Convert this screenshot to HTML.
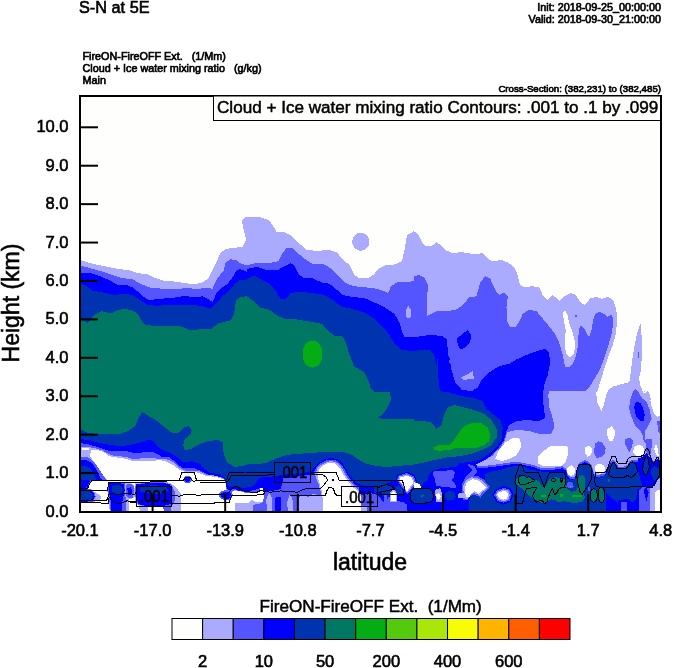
<!DOCTYPE html>
<html><head><meta charset="utf-8"><title>S-N at 5E</title>
<style>
html,body{margin:0;padding:0;background:#fff;}
body{width:674px;height:668px;overflow:hidden;}
svg{display:block;font-family:"Liberation Sans",sans-serif;}
text{fill:#000;}
</style></head><body>
<svg width="674" height="668" viewBox="0 0 674 668">
<g shape-rendering="crispEdges">
<rect x="80" y="96" width="581" height="416" fill="#fefefc"/>
<polygon fill="#aaaaff" points="80.0,260.0 92.5,263.8 105.0,266.2 117.5,268.8 130.0,270.5 137.5,273.2 147.5,274.2 155.0,278.0 165.0,281.2 172.5,281.2 185.0,283.2 195.0,284.2 202.5,282.5 208.8,278.0 212.5,270.0 216.2,262.5 220.0,253.8 225.0,249.2 232.5,248.0 242.5,246.8 246.2,240.0 243.8,230.0 242.0,221.2 245.0,217.0 259.5,217.0 269.5,220.5 273.2,226.2 277.0,232.5 284.5,232.0 292.0,236.2 299.5,243.8 307.0,250.0 317.0,250.8 329.5,250.0 337.0,252.5 343.2,260.0 349.5,265.0 354.5,275.0 359.5,278.2 369.5,277.5 374.5,273.8 378.2,268.8 384.5,265.5 394.5,264.5 402.0,261.2 404.5,250.0 407.0,235.0 414.0,231.2 417.8,233.8 421.5,241.2 425.2,246.2 431.5,246.2 436.5,242.0 440.2,245.0 445.2,250.0 452.8,253.2 461.5,252.0 474.0,254.2 482.8,253.2 487.8,258.8 492.8,261.2 501.5,260.0 507.8,262.5 513.2,266.2 517.0,272.5 520.0,285.0 524.5,287.5 532.0,286.2 539.5,287.5 543.2,296.2 547.0,300.0 552.0,295.0 555.8,297.5 559.5,300.8 564.5,296.2 570.8,293.0 575.8,295.0 580.8,302.5 584.5,305.0 590.8,298.0 597.0,297.0 602.0,298.8 608.2,296.8 613.2,300.0 615.8,307.5 617.5,317.5 639.7,325.7 640.6,324.1 641.1,325.7 641.7,339.9 641.7,356.5 641.1,369.8 638.9,378.1 640.6,386.4 643.9,393.9 648.0,391.0 649.7,394.7 651.4,401.0 642.2,388.3 645.5,393.3 648.0,391.3 649.7,396.6 651.7,406.6 654.4,414.1 657.2,416.9 661.0,414.9 661.0,512.0 80.0,512.0"/>
<polygon fill="#fefefc" points="617.3,314.9 617.3,319.9 615.6,334.9 612.3,346.5 608.2,356.5 604.0,369.8 599.9,383.1 597.4,391.4 595.7,401.0 596.5,391.6 596.5,399.9 599.0,406.6 601.5,410.7 604.0,404.9 605.7,396.6 608.2,390.0 613.1,386.6 621.5,384.2 628.1,382.5 629.8,380.8 630.6,373.1 632.3,359.8 634.7,344.8 637.2,333.2 639.7,325.7 639.7,314.9"/>
<ellipse fill="#aaaaff" cx="360.8" cy="241.8" rx="8.7" ry="9.0"/>
<polygon fill="#5555ff" points="80.0,265.5 92.5,268.8 105.0,272.5 112.5,275.0 122.5,278.2 132.5,279.2 140.0,283.8 150.0,287.5 162.5,288.8 175.0,289.2 187.5,288.0 197.5,289.2 205.0,287.5 212.5,288.8 216.2,280.0 220.0,275.0 223.8,271.2 225.0,263.8 230.0,259.2 236.2,260.0 241.2,263.8 247.0,265.5 257.0,262.5 269.5,263.2 278.2,261.2 282.0,253.8 287.0,247.5 292.0,247.5 297.0,252.5 304.5,258.8 312.0,263.8 324.5,264.5 329.5,267.5 339.5,277.5 347.0,283.8 354.5,286.2 367.0,287.5 377.0,288.8 384.5,291.2 388.2,293.0 390.8,286.2 397.0,282.5 407.0,282.0 414.0,281.2 414.0,276.2 419.0,275.0 424.0,277.5 427.8,285.0 427.2,300.0 427.2,315.8 436.5,311.2 446.5,311.2 456.5,309.5 462.8,305.0 469.0,297.5 476.5,296.2 480.2,282.5 485.2,276.2 490.2,278.8 495.2,290.0 499.0,295.0 504.0,292.5 507.8,296.2 506.5,307.5 506.5,320.0 510.2,327.0 515.2,327.5 519.0,322.5 522.8,313.8 529.0,309.5 536.5,311.2 542.8,318.8 549.0,326.2 554.0,332.5 559.0,342.5 562.8,355.0 565.2,367.0 565.8,367.0 566.6,367.3 570.8,366.4 574.9,359.8 577.4,349.8 578.2,338.2 579.1,328.2 580.7,325.7 584.9,329.9 589.1,337.4 591.5,329.9 593.2,319.9 595.7,313.3 599.9,311.6 604.0,314.1 607.3,316.6 611.5,314.9 613.1,318.2 612.3,331.5 609.0,343.2 604.8,356.5 599.9,369.8 594.9,378.1 589.9,386.4 585.7,391.4 582.0,391.2 549.5,391.2 548.2,395.0 549.5,407.5 553.2,420.0 554.5,427.5 550.8,433.8 542.0,434.5 529.5,431.2 517.0,429.5 507.0,432.5 507.0,432.5 504.5,441.2 499.0,450.0 497.1,450.0 493.4,455.0 487.2,458.7 478.4,461.8 468.5,464.3 477.2,466.2 487.2,465.6 497.1,464.3 505.9,463.1 514.6,461.8 520.8,462.5 530.0,464.3 535.0,465.6 540.0,467.5 546.2,468.1 554.9,467.5 562.4,466.2 566.2,468.7 567.4,473.7 569.9,476.8 574.9,477.4 576.1,471.2 578.0,465.0 581.1,461.8 584.9,460.0 588.6,461.8 591.7,465.0 593.0,470.0 594.2,473.7 597.3,474.9 604.8,473.7 606.7,468.7 608.1,467.4 610.0,461.2 613.1,460.0 616.2,462.4 618.1,466.8 622.4,467.4 627.4,464.9 629.9,460.6 634.9,460.0 639.9,460.6 643.6,457.5 646.7,453.7 649.9,457.5 653.6,461.2 657.3,458.7 661.7,460.6 661.0,512.0 80.0,512.0"/>
<polygon fill="#0000ff" points="80.0,272.5 90.0,273.0 100.0,276.2 110.0,280.5 117.5,285.0 127.5,285.5 133.8,288.0 142.5,296.2 148.8,300.0 157.5,299.2 167.5,298.2 175.0,297.5 185.0,295.8 195.0,297.5 202.5,296.2 207.5,298.8 212.5,302.0 216.2,293.8 222.5,287.5 227.5,283.8 232.5,277.5 236.2,271.2 240.0,269.2 247.0,271.8 247.0,268.8 257.0,267.0 267.0,270.0 277.0,270.5 284.5,266.2 290.8,263.0 294.5,266.2 298.2,273.8 303.2,277.5 312.0,278.2 322.0,282.5 329.5,283.8 337.0,290.0 342.0,295.0 352.0,296.8 364.5,298.2 374.5,302.5 384.5,307.5 394.5,313.8 399.5,322.5 402.0,332.5 404.5,337.5 414.0,337.0 421.5,336.2 429.0,335.0 441.5,335.8 446.5,338.8 447.8,350.0 449.0,360.0 450.2,367.0 449.0,355.0 451.5,370.0 455.2,382.5 461.5,389.5 471.5,391.2 477.8,387.5 481.5,380.0 489.0,372.5 499.0,366.2 509.0,363.8 516.5,359.5 526.5,355.0 536.5,351.2 545.2,348.8 549.0,352.5 550.2,362.5 547.8,375.0 544.0,385.0 542.8,397.5 544.0,410.0 545.2,417.5 539.0,421.2 526.5,420.0 516.5,421.2 509.0,425.0 506.5,431.2 504.0,440.0 497.8,448.8 491.5,455.0 485.2,460.0 476.5,464.5 477.2,468.2 487.2,467.6 497.1,466.3 505.9,465.1 514.6,463.8 520.8,464.5 530.0,466.3 535.0,467.6 540.0,469.5 546.2,470.1 554.9,469.5 562.4,468.2 566.2,470.7 567.4,475.7 569.9,478.8 574.9,479.4 576.1,473.2 578.0,467.0 581.1,463.8 584.9,462.0 588.6,463.8 591.7,467.0 593.0,472.0 594.2,475.7 597.3,476.9 604.8,475.7 606.7,470.7 608.1,469.4 610.0,463.2 613.1,462.0 616.2,464.4 618.1,468.8 622.4,469.4 627.4,466.9 629.9,462.6 634.9,462.0 639.9,462.6 643.6,459.5 646.7,455.7 649.9,459.5 653.6,463.2 657.3,460.7 661.7,462.6 661.0,512.0 80.0,512.0"/>
<polygon fill="#0000ff" points="457.0,338.2 462.8,333.8 467.8,330.0 471.0,335.0 470.2,342.5 465.2,347.5 460.2,349.5 457.8,345.0"/>
<polygon fill="#0033b0" points="80.0,283.8 85.0,285.0 92.5,290.5 102.5,292.5 112.5,295.0 125.0,293.8 132.5,295.0 140.0,300.0 147.5,305.0 157.5,305.8 167.5,305.0 180.0,305.5 192.5,305.0 202.5,306.2 210.0,308.8 216.2,303.8 222.5,296.2 230.0,290.0 235.0,283.8 240.0,280.0 247.0,280.5 247.0,278.8 254.5,275.5 262.0,280.0 269.5,283.8 275.8,291.2 280.8,299.2 285.8,299.2 290.8,293.0 299.5,291.8 312.0,293.0 324.5,295.0 334.5,301.2 340.8,306.2 352.0,308.8 364.5,312.5 374.5,318.8 383.2,327.5 389.5,335.0 394.5,343.8 402.0,350.0 414.0,351.2 421.5,349.5 429.0,350.0 434.0,355.0 437.0,367.0 437.8,355.0 437.8,370.0 439.0,385.0 440.2,391.2 449.0,392.5 461.5,396.2 474.0,398.0 482.8,401.2 486.5,408.8 494.0,415.0 500.2,420.0 502.8,427.5 501.5,438.8 496.5,447.5 489.0,453.8 481.5,458.8 472.8,462.5 461.5,465.0 461.0,512.0 80.0,512.0"/>
<polygon fill="#007763" points="80.0,320.0 83.8,320.8 87.5,322.5 92.5,317.5 96.2,313.8 101.2,311.2 107.5,312.5 112.5,312.5 117.5,310.0 125.0,308.8 132.5,310.5 137.5,313.8 141.2,320.0 145.0,325.0 155.0,325.8 167.5,325.5 180.0,325.8 190.0,330.5 200.0,329.2 211.2,329.2 217.5,323.8 223.8,321.8 230.0,320.8 233.8,315.0 236.2,300.0 240.0,297.5 247.0,296.2 247.0,296.2 252.0,300.0 259.5,307.5 269.5,310.0 277.0,315.5 284.5,318.8 297.0,319.5 307.0,321.2 322.0,323.8 327.0,330.0 334.5,335.8 342.0,335.8 345.8,342.5 349.5,355.0 354.5,367.0 358.2,368.8 364.5,372.5 368.2,380.0 370.8,388.8 375.8,392.5 383.2,392.0 389.5,392.5 391.5,398.8 388.2,406.2 383.2,413.8 377.0,418.0 387.0,419.2 399.5,419.2 414.0,419.2 414.0,421.2 424.0,421.2 431.5,422.5 436.5,428.8 441.5,425.0 444.0,415.0 447.8,407.5 454.0,405.0 464.0,407.5 474.0,410.0 484.0,413.8 491.5,420.0 496.5,428.8 496.5,437.5 491.5,445.0 481.5,450.0 471.5,453.8 459.0,456.2 446.5,457.5 434.0,460.0 424.0,462.5 414.0,464.5 414.0,464.5 407.0,465.0 397.0,466.2 387.0,466.8 377.0,466.2 367.0,463.8 359.5,460.0 352.0,455.0 344.5,452.5 334.5,452.0 322.0,452.2 309.5,453.0 297.0,454.0 287.0,454.8 277.0,458.0 267.0,462.5 257.0,464.5 247.0,464.2 247.0,465.0 235.0,467.0 227.5,462.5 223.8,455.0 222.5,442.5 217.5,440.0 207.5,441.2 197.5,445.0 191.2,448.8 185.0,450.0 183.2,445.0 185.0,438.8 190.0,435.0 191.8,430.0 188.8,425.8 183.8,427.5 178.8,432.5 172.5,433.0 165.0,427.5 157.5,421.2 148.8,416.2 142.5,412.0 138.8,417.5 135.0,426.2 127.5,431.2 117.5,434.5 107.5,433.8 97.5,434.5 87.5,432.5 80.0,428.8"/>
<ellipse fill="#04ad14" cx="312.5" cy="354.0" rx="10.0" ry="13.5"/>
<polygon fill="#04ad14" points="433.5,447.5 439.0,445.0 449.0,445.0 454.0,440.0 459.0,432.5 464.0,426.2 471.5,423.2 481.5,423.2 487.8,427.5 490.2,435.0 489.0,441.2 484.0,445.0 476.5,447.5 466.5,448.0 456.5,447.5 449.0,450.0 439.0,450.8 434.0,449.5"/>
<polygon fill="#aaaaff" points="408.2,305.0 410.8,310.0 411.5,316.2 409.0,318.8 405.8,316.2 405.8,311.2"/>
<polygon fill="#0000ff" points="80.0,438.7 90.5,440.6 102.9,443.7 115.4,445.6 125.4,445.6 132.9,444.3 140.3,442.4 145.3,440.6 149.1,439.7 152.8,440.6 156.6,444.9 162.0,449.9 170.0,452.5 177.5,457.5 182.5,462.5 192.5,461.2 200.0,463.8 203.8,468.8 210.0,472.5 220.0,474.5 224.7,477.8 226.6,482.2 227.8,485.9 230.9,487.2 234.7,485.9 238.4,487.2 243.4,487.8 249.6,487.2 254.6,484.7 257.1,480.9 259.6,477.8 264.6,476.6 270.8,476.6 275.8,476.0 283.3,474.7 290.0,474.1 303.7,472.8 311.2,471.0 314.9,466.6 319.3,462.2 324.9,459.1 331.1,457.9 337.4,459.1 341.7,462.2 344.9,467.2 348.0,472.8 351.7,478.4 356.1,482.8 361.1,485.3 367.3,485.9 374.0,485.7 385.0,485.0 395.0,479.0 400.0,473.0 408.0,468.0 416.0,466.0 430.0,467.0 445.0,465.0 461.0,463.0 476.0,461.0 476.0,512.0 80.0,512.0"/>
<polygon fill="#5555ff" points="80.0,443.1 88.0,444.3 96.7,446.8 104.2,449.3 110.4,451.2 120.4,450.5 125.4,450.5 130.4,452.4 137.9,453.0 145.3,452.2 152.8,452.2 157.8,454.3 162.0,456.8 170.0,457.2 176.2,463.0 182.5,468.0 195.0,468.5 202.5,471.8 210.0,475.5 220.0,477.5 221.0,476.6 224.7,479.1 226.0,482.8 226.6,487.2 228.4,490.3 234.7,489.0 238.4,490.7 243.4,491.5 249.6,490.9 255.9,489.7 260.9,487.8 263.4,490.9 270.8,490.9 275.8,490.3 280.8,489.0 283.3,478.4 290.0,478.4 297.5,476.0 313.1,474.7 316.2,467.2 320.5,463.5 325.5,460.7 331.1,459.5 336.8,460.7 340.5,463.5 343.6,467.8 346.7,473.5 350.5,479.1 354.8,484.1 358.6,487.2 359.8,493.4 362.3,510.9 362.0,512.0 80.0,512.0"/>
<polygon fill="#aaaaff" points="80.0,446.4 90.5,447.4 96.7,448.7 102.9,450.5 107.9,453.7 112.9,455.5 120.4,456.2 127.9,457.4 131.6,458.7 137.9,458.7 145.3,458.0 152.8,458.0 157.8,458.7 162.0,459.3 165.0,458.8 172.5,461.5 178.8,467.5 185.0,470.5 197.5,470.5 205.0,473.8 206.0,474.7 213.5,475.3 220.3,477.2 224.7,479.7 226.0,482.8 226.0,488.4 230.9,492.2 234.7,490.3 240.9,490.9 245.9,492.8 255.9,492.8 260.9,490.9 263.4,492.2 263.4,498.4 260.9,502.1 255.9,502.8 252.1,500.3 248.4,503.4 235.3,504.0 235.3,510.9 80.0,512.0"/>
<polygon fill="#fefefc" points="80.0,456.8 89.8,456.8 89.8,454.9 91.1,450.5 94.2,449.9 99.2,450.5 104.2,452.4 107.9,455.5 112.9,457.2 120.4,457.8 127.9,459.3 132.9,461.4 142.8,461.4 152.8,461.1 157.8,460.1 162.0,460.5 165.0,460.8 172.5,464.5 178.8,469.5 185.0,472.0 195.0,472.0 202.5,474.2 206.0,476.0 213.5,476.6 219.7,477.8 224.1,479.7 226.0,482.8 226.0,489.7 230.9,492.8 234.7,490.9 240.9,491.5 245.9,493.4 255.9,493.4 260.9,491.5 262.7,492.8 262.7,497.8 260.9,501.5 255.9,502.1 252.1,499.6 248.4,502.8 234.7,503.4 234.7,510.9 80.0,512.0"/>
<polygon fill="#aaaaff" points="235.3,504.0 248.4,503.4 252.1,500.3 255.9,502.4 260.9,501.9 263.4,498.4 263.6,510.9 235.3,510.9"/>
<polygon fill="#5555ff" points="252.8,510.9 252.8,505.9 255.9,504.0 260.9,503.4 263.6,499.6 263.6,510.9"/>
<polygon fill="#5555ff" points="218.5,493.4 222.2,490.9 227.2,489.9 231.6,490.9 232.8,494.7 231.6,498.4 228.4,500.3 223.5,499.9 219.7,497.8"/>
<polygon fill="#0000ff" points="220.3,494.0 223.5,492.2 227.2,491.5 230.7,492.8 230.9,495.9 229.1,498.6 224.7,498.6 221.6,497.1"/>
<polygon fill="#aaaaff" points="299.4,510.9 299.4,497.1 303.7,494.7 308.7,497.1 313.7,493.4 318.7,495.9 323.0,493.4 323.0,510.9"/>
<polygon fill="#0000ff" points="274.6,497.8 280.8,496.8 281.2,512.4 275.0,512.4"/>
<polygon fill="#aaaaff" points="266.2,499.9 269.4,491.6 272.5,499.9 271.4,512.4 267.3,512.4"/>
<polygon fill="#aaaaff" points="287.0,502.0 290.1,493.7 293.3,502.0 292.8,512.4 288.1,512.4"/>
<polygon fill="#fefefc" points="260.0,487.4 263.1,488.5 264.2,494.7 263.1,502.0 260.0,502.0"/>
<polygon fill="#aaaaff" points="314.9,474.7 317.4,468.5 321.2,464.7 326.2,462.2 331.1,461.0 336.1,462.2 339.6,465.0 342.4,469.1 345.5,474.7 349.2,480.3 353.6,485.3 357.3,488.4 360.4,493.4 362.9,503.4 364.2,510.9 321.8,510.9 321.2,493.4 318.7,484.7"/>
<polygon fill="#fefefc" points="317.4,476.0 319.3,469.7 321.8,466.6 326.2,463.7 331.1,462.5 335.5,463.7 338.6,466.6 341.1,470.3 344.2,476.0 348.0,481.6 352.3,486.5 356.1,489.7 359.8,493.4 362.3,503.4 363.6,510.9 323.0,510.9 322.4,493.4 319.9,484.7"/>
<polygon fill="#fefefc" points="81.7,448.1 89.2,448.1 89.2,449.9 81.7,449.9"/>
<polygon fill="#aaaaff" points="80.0,456.8 89.8,456.2 91.7,458.7 95.5,463.6 99.2,469.3 102.9,474.9 107.3,479.9 107.9,480.1 80.7,480.1"/>
<polygon fill="#5555ff" points="80.0,457.4 88.0,457.4 91.7,459.9 96.1,464.9 100.4,471.1 104.2,476.7 106.4,480.0 106.1,480.1 80.7,480.1"/>
<polygon fill="#0000ff" points="80.0,459.9 85.5,459.9 90.5,462.4 94.2,466.1 98.0,472.4 100.4,477.4 102.9,480.0 103.6,480.1 80.7,480.1"/>
<polygon fill="#0033b0" points="80.0,466.1 85.5,466.4 89.2,468.0 91.7,470.5 94.2,474.9 96.7,480.0 96.7,480.1 80.7,480.1"/>
<polygon fill="#5555ff" points="80.7,480.1 91.7,480.1 89.5,484.3 88.2,488.0 80.7,488.9"/>
<polygon fill="#0000ff" points="80.7,480.1 90.5,480.1 88.6,483.6 87.4,487.4 80.7,488.0"/>
<polygon fill="#aaaaff" points="80.7,488.4 90.5,488.6 95.5,492.4 100.4,495.5 101.1,499.2 96.7,500.5 93.0,502.3 80.7,503.0"/>
<polygon fill="#5555ff" points="80.7,488.6 90.2,489.0 94.5,492.6 95.7,496.7 93.0,501.7 80.7,502.6"/>
<polygon fill="#0000ff" points="80.7,489.3 89.8,489.6 93.6,493.0 94.8,496.7 92.3,501.1 80.7,502.1"/>
<polygon fill="#0033b0" points="80.7,490.5 89.2,491.1 92.3,493.6 93.0,496.7 90.5,499.9 80.7,501.1"/>
<polygon fill="#aaaaff" points="107.9,482.4 127.9,483.0 129.7,489.9 129.1,511.1 109.8,511.1 108.5,499.9 107.3,489.9"/>
<polygon fill="#5555ff" points="108.5,482.6 125.4,483.0 126.6,492.4 126.0,511.1 110.7,511.1 109.2,499.9 107.9,489.9"/>
<polygon fill="#0000ff" points="109.2,483.0 123.5,483.6 124.8,489.9 123.5,496.1 122.3,502.3 122.3,511.1 111.4,511.1 110.7,501.1 108.9,492.4"/>
<polygon fill="#0033b0" points="111.7,486.1 115.4,484.9 120.4,485.5 122.9,488.6 122.3,492.4 119.1,493.9 114.8,493.6 111.9,491.1"/>
<polygon fill="#aaaaff" points="125.4,484.3 130.4,483.0 134.1,485.5 135.1,492.4 133.5,498.0 129.1,499.4 125.4,496.7"/>
<polygon fill="#5555ff" points="126.0,484.9 130.4,483.6 133.5,486.1 134.1,492.4 132.9,497.4 129.1,498.6 126.0,496.1"/>
<polygon fill="#0000ff" points="127.3,488.0 131.0,487.4 132.2,491.1 131.0,494.9 127.9,494.9"/>
<polygon fill="#aaaaff" points="134.8,483.5 149.8,481.5 163.1,481.5 170.6,483.2 176.4,487.4 181.4,494.8 181.4,511.5 163.9,511.5 163.1,507.3 148.1,507.3 148.1,511.5 139.8,511.5 139.0,505.6 135.7,503.1 134.0,494.8"/>
<polygon fill="#5555ff" points="135.7,484.2 149.8,482.4 163.1,482.4 170.6,484.0 174.4,489.9 175.5,498.2 173.1,504.8 171.4,506.5 171.4,511.5 163.9,511.5 163.1,506.8 153.1,506.1 146.5,506.8 138.2,504.5 134.8,494.8"/>
<polygon fill="#0000ff" points="136.5,484.5 149.8,482.9 163.1,482.9 169.7,484.5 172.2,489.9 172.2,496.5 170.6,504.0 163.1,506.1 153.1,505.6 146.5,506.1 138.2,504.0 135.7,494.8"/>
<polygon fill="#0033b0" points="139.8,487.4 153.1,484.9 166.4,486.5 168.9,491.5 159.8,494.0 146.5,493.2 140.7,491.5"/>
<ellipse fill="#5555ff" cx="187.7" cy="479.5" rx="4.2" ry="3.6"/>
<ellipse fill="#0000ff" cx="187.7" cy="479.5" rx="2.8" ry="2.4"/>
<polygon fill="#fefefc" points="563.3,311.6 565.8,310.8 567.4,314.9 569.1,323.2 572.4,331.5 574.6,339.9 574.9,348.2 573.3,354.8 569.9,357.0 566.6,354.8 565.0,348.2 565.0,338.2 565.8,329.9 564.1,321.6 563.0,314.9"/>
<ellipse fill="#5555ff" cx="575.8" cy="316.1" rx="1.2" ry="1.2"/>
<polygon fill="#5555ff" points="637.6,351.5 638.9,351.5 638.9,358.1 637.6,358.1"/>
<polygon fill="#5555ff" points="635.6,389.1 638.1,391.6 642.2,398.3 646.4,401.6 649.7,409.9 651.7,419.1 648.0,426.5 644.7,431.5 645.5,439.8 648.0,442.3 651.4,446.5 648.0,446.5 643.9,441.5 642.2,434.0 639.7,429.9 634.7,424.9 631.4,416.6 628.9,408.2 630.6,398.3 633.1,391.6"/>
<polygon fill="#0000ff" points="637.2,401.6 640.6,403.3 643.1,408.2 644.7,414.9 643.9,420.7 640.6,421.5 637.2,418.2 634.7,412.4 634.4,406.6 635.6,402.4"/>
<polygon fill="#5555ff" points="657.2,421.5 661.0,419.9 661.0,434.8 658.0,431.5"/>
<polygon fill="#5555ff" points="645.5,438.8 652.3,438.8 651.7,446.2 651.1,452.5 649.2,456.2 646.7,452.5 645.5,446.2"/>
<polygon fill="#fefefc" points="607.3,429.0 611.5,426.2 614.5,429.9 614.8,435.7 612.3,441.5 609.0,440.7 607.0,434.8"/>
<polygon fill="#fefefc" points="585.2,447.3 589.1,445.6 592.4,449.0 591.2,454.8 587.4,456.8 584.9,453.1"/>
<polygon fill="#fefefc" points="550.0,445.6 560.0,445.6 567.4,448.1 567.9,454.8 565.8,461.4 561.6,465.6 550.0,466.4"/>
<polygon fill="#fefefc" points="633.9,447.3 638.9,444.8 643.1,446.5 644.7,451.5 643.1,455.6 636.4,455.6 633.1,453.1"/>
<polygon fill="#fefefc" points="654.7,445.6 656.4,444.8 658.0,449.8 658.8,456.4 656.4,454.8 654.4,449.8"/>
<polygon fill="#5555ff" points="594.9,444.0 598.2,441.2 602.3,442.8 605.7,448.1 604.8,453.9 600.7,457.3 596.5,457.8 594.0,453.1"/>
<polygon fill="#5555ff" points="625.6,439.0 629.8,437.8 632.8,440.7 632.3,446.5 629.4,452.3 626.8,448.1 624.8,443.1"/>
<polygon fill="#fefefc" points="495.2,458.8 499.0,450.0 505.2,442.5 514.0,437.5 520.2,438.8 521.0,447.5 516.5,455.0 509.0,458.8 501.5,461.2"/>
<polygon fill="#fefefc" points="538.1,456.2 541.2,453.7 545.0,450.0 550.0,446.3 567.4,446.3 568.0,450.0 567.4,456.2 565.5,461.2 563.7,464.3 554.9,465.6 546.2,466.2 541.8,465.6 537.5,463.1"/>
<polygon fill="#aaaaff" points="461.5,377.5 472.8,371.2 474.0,378.8 462.8,380.0"/>
<polygon fill="#0033b0" points="469.1,512.3 469.1,499.9 471.0,496.1 473.5,493.0 476.6,495.5 478.4,496.1 480.9,492.4 484.7,489.9 486.5,487.4 485.3,481.2 484.7,474.9 487.2,473.1 493.4,471.2 500.9,470.0 508.4,467.5 514.6,466.2 520.8,465.6 530.0,470.0 537.5,470.6 542.5,471.8 548.7,472.4 554.9,471.8 563.7,471.8 565.5,474.9 567.4,478.7 572.4,479.9 575.5,478.7 576.8,472.4 578.6,466.2 582.4,464.3 587.4,464.3 591.1,466.2 592.3,471.2 593.6,476.8 596.1,478.1 601.1,476.2 606.1,474.9 608.7,468.7 611.2,462.4 614.3,463.7 616.8,468.1 626.2,468.7 629.9,463.1 633.6,461.8 636.1,464.9 637.4,471.2 642.4,473.7 646.1,469.9 647.4,464.9 649.2,469.9 652.3,468.7 656.1,464.9 658.6,467.4 659.8,474.9 656.1,481.1 652.3,486.1 642.4,486.8 637.4,489.9 636.1,499.9 632.4,502.3 627.4,498.6 621.2,499.9 616.2,501.7 611.2,497.4 606.2,492.4 606.2,511.7 469.0,512.0"/>
<polygon fill="#0000ff" points="638.0,458.7 643.6,456.2 646.7,453.1 649.9,457.5 653.6,461.8 657.3,459.3 661.1,461.2 661.1,473.7 656.1,481.1 652.3,486.4 642.4,486.4 639.9,477.4 638.6,471.2"/>
<polygon fill="#0033b0" points="643.0,471.2 644.9,460.0 646.7,456.8 648.6,460.6 649.2,467.4 647.4,474.3 644.9,475.5"/>
<polygon fill="#0033b0" points="651.1,469.9 654.8,466.2 658.6,468.1 659.2,474.9 654.8,481.1 651.7,477.4"/>
<polygon fill="#5555ff" points="620.5,502.3 627.4,502.3 627.4,511.7 620.5,511.7"/>
<polygon fill="#5555ff" points="639.3,489.9 642.4,487.4 649.9,487.4 649.9,511.7 639.3,511.7"/>
<polygon fill="#aaaaff" points="649.9,487.4 654.8,486.1 656.7,481.1 661.7,474.9 661.7,511.7 649.9,511.7"/>
<polygon fill="#fefefc" points="654.8,492.4 657.3,489.9 661.7,489.9 661.7,511.7 654.8,511.7"/>
<polygon fill="#0000ff" points="643.6,489.9 646.1,487.4 648.6,492.4 646.7,501.1 644.9,496.1"/>
<polygon fill="#007763" points="515.9,483.0 515.9,479.9 518.3,476.8 523.3,476.2 528.3,477.4 530.0,478.1 535.0,479.3 538.7,481.2 542.5,486.2 545.0,487.4 547.5,482.4 550.0,478.7 554.9,477.4 561.2,477.7 564.9,479.3 566.2,483.7 567.4,488.7 571.1,491.8 576.1,491.1 578.0,486.2 578.0,479.9 579.3,476.2 582.4,474.9 584.9,476.8 585.5,482.4 584.9,488.7 583.6,493.6 584.9,497.4 582.4,501.7 576.1,503.0 569.9,502.4 563.7,501.1 558.7,502.4 554.9,499.9 551.2,499.3 546.2,502.4 542.5,503.0 537.5,501.1 533.7,498.6 529.6,496.1 525.8,492.4 522.1,488.7 518.3,486.2"/>
<polygon fill="#007763" points="590.6,492.4 592.5,489.3 595.6,489.9 596.9,494.9 596.2,499.9 593.7,501.7 591.2,499.9"/>
<polygon fill="#007763" points="598.7,489.9 601.2,486.8 603.1,489.9 604.3,496.1 603.7,501.1 601.2,502.3 599.4,498.6"/>
<polygon fill="#007763" points="608.1,478.7 610.6,480.1 608.5,481.8"/>
<polygon fill="#04ad14" points="541.2,494.9 545.6,494.9 545.6,496.8 541.2,496.8"/>
<polygon fill="#04ad14" points="559.9,494.3 563.0,494.3 563.0,497.1 559.9,497.1"/>
<polygon fill="#04ad14" points="572.4,495.1 581.7,495.1 581.7,496.8 572.4,496.8"/>
<polygon fill="#5555ff" points="566.8,483.7 569.9,481.2 573.0,483.0 573.6,486.8 571.1,488.7 567.4,487.4"/>
<polygon fill="#aaaaff" points="568.7,485.5 571.1,485.5 570.5,487.4"/>
<polygon fill="#5555ff" points="588.0,487.4 589.9,487.4 589.9,491.1 588.0,491.1"/>
<ellipse fill="#fefefc" cx="571.1" cy="470.6" rx="4.1" ry="5.2"/>
<ellipse fill="#fefefc" cx="599.8" cy="468.7" rx="5.2" ry="5.0"/>
<polygon fill="#5555ff" points="467.8,464.0 474.7,466.0 477.4,471.8 473.5,476.8 469.1,479.9 464.1,481.2 465.4,476.8 469.7,473.1 472.2,470.0 468.5,466.2"/>
<polygon fill="#5555ff" points="461.5,485.1 464.3,479.1 471.1,475.5 478.2,476.0 483.6,479.5 487.8,484.1 489.9,486.9 487.4,490.4 484.7,492.5 480.6,497.6 478.2,496.0 472.6,494.9 469.3,496.9 467.5,500.1 463.8,500.2 461.8,495.4"/>
<polygon fill="#aaaaff" points="463.4,485.6 465.7,480.4 471.7,477.4 477.7,478.0 482.3,480.9 485.9,484.8 487.9,487.1 485.4,490.1 482.8,491.8 479.5,495.9 477.4,494.2 473.3,493.0 470.4,495.3 468.6,498.4 465.2,498.8 463.6,494.5"/>
<polygon fill="#fefefc" points="465.4,486.2 467.2,481.8 472.2,479.3 477.2,479.9 480.9,482.4 484.1,485.5 485.9,487.4 483.4,489.9 480.9,491.1 478.4,494.3 476.6,492.4 474.1,491.1 471.6,493.6 469.7,496.8 466.6,497.4 465.4,493.6"/>
<polygon fill="#aaaaff" points="457.9,493.6 465.4,493.0 465.4,498.0 458.5,498.0"/>
<polygon fill="#0000ff" points="492.2,494.6 495.7,489.3 503.6,485.9 510.9,488.5 513.4,494.6 510.9,501.9 503.6,504.6 496.0,502.1"/>
<polygon fill="#5555ff" points="494.0,494.7 497.1,490.4 503.5,487.7 509.5,489.7 511.6,494.7 509.5,500.7 503.5,502.8 497.3,500.8"/>
<polygon fill="#aaaaff" points="495.5,494.8 498.4,491.4 503.4,489.3 508.3,490.7 510.0,494.8 508.3,499.7 503.4,501.2 498.5,499.7"/>
<polygon fill="#fefefc" points="497.1,494.9 499.6,492.4 503.4,490.9 507.1,491.8 508.4,494.9 507.1,498.6 503.4,499.6 499.6,498.6"/>
<polygon fill="#5555ff" points="433.4,471.6 437.6,470.7 445.9,470.7 452.6,469.9 455.1,472.4 453.4,478.2 451.7,480.7 455.1,484.0 456.7,488.2 449.2,487.4 440.9,486.5 435.9,485.7 435.1,479.9 433.4,475.7"/>
<polygon fill="#aaaaff" points="435.1,489.9 440.1,488.2 441.8,493.2 441.8,501.5 435.9,502.3"/>
<polygon fill="#fefefc" points="435.9,494.0 439.3,493.2 440.9,496.5 439.3,499.8 436.8,499.0"/>
<polygon fill="#0033b0" points="445.1,493.2 449.2,490.7 454.2,492.3 455.9,496.5 453.4,499.8 448.4,500.7 445.1,498.2"/>
<polygon fill="#0033b0" points="416.0,489.0 429.3,488.5 432.6,491.5 433.4,496.5 431.8,501.5 424.3,503.1 416.0,503.5"/>
<polygon fill="#007763" points="420.2,494.8 424.3,495.2 421.8,497.3"/>
<polygon fill="#0033b0" points="374.0,466.8 386.5,467.5 398.9,467.5 411.4,466.0 423.9,465.0 428.9,463.2 436.3,462.0 448.8,460.2 458.0,457.5 458.0,466.2 448.8,467.5 438.8,468.7 432.6,471.2 428.9,474.9 427.6,479.9 423.9,482.4 421.4,487.4 413.9,488.7 410.2,491.1 407.7,493.6 403.9,487.4 403.3,481.2 398.9,479.9 386.5,480.5 374.0,480.5"/>
<polygon fill="#0033b0" points="374.0,486.2 381.5,484.9 387.7,484.3 391.5,486.2 394.6,488.0 397.7,486.2 398.9,483.7 402.7,482.4 403.9,487.4 403.3,493.6 397.7,494.9 396.4,492.4 394.6,489.9 391.5,489.9 389.0,494.9 386.5,499.9 384.0,497.4 381.5,491.1 374.0,493.0"/>
<polygon fill="#5555ff" points="374.0,498.6 379.0,496.1 381.5,499.9 384.0,502.4 386.5,501.1 389.0,496.1 390.2,498.6 392.7,502.4 398.9,501.1 403.9,502.4 407.0,504.9 407.0,512.3 374.0,512.3"/>
<polygon fill="#0000ff" points="397.2,474.9 407.2,471.7 415.2,475.8 417.6,483.7 412.9,489.6 407.2,495.5 400.7,487.5 395.6,479.9"/>
<polygon fill="#5555ff" points="398.2,475.7 407.2,472.9 414.2,476.5 416.4,483.6 412.2,488.7 407.1,494.3 401.6,486.7 396.8,480.1"/>
<polygon fill="#aaaaff" points="399.3,476.5 407.1,474.3 413.1,477.4 415.1,483.4 411.3,487.6 407.1,492.9 402.6,485.8 398.2,480.4"/>
<polygon fill="#fefefc" points="400.4,477.4 407.0,475.7 412.0,478.2 413.7,483.2 410.4,486.5 407.0,491.5 403.7,484.9 399.5,480.7"/>
<polygon fill="#fefefc" points="414.3,482.4 419.3,484.0 421.8,488.2 414.3,488.2"/>
<polygon fill="#aaaaff" points="389.6,493.5 393.7,489.0 397.1,493.5 397.1,501.5 390.4,501.5"/>
<polygon fill="#fefefc" points="390.4,494.0 393.7,490.7 396.2,494.0 396.2,500.7 391.2,500.7"/>
<polygon fill="#0033b0" points="410.4,489.9 416.0,488.2 418.7,489.9 418.7,503.1 413.7,503.1 410.4,498.2"/>
<polygon fill="#5555ff" points="361.3,494.8 370.5,493.2 377.1,494.8 377.1,511.5 360.5,511.5"/>
<polygon fill="#aaaaff" points="360.5,506.5 367.1,505.6 367.1,511.5 360.5,511.5"/>
<polygon fill="#5555ff" points="383.8,494.8 387.1,494.8 387.1,503.1 383.8,503.1"/>
</g>
<g shape-rendering="crispEdges">
<polyline fill="none" stroke="#000" stroke-width="1.0" stroke-linejoin="round" points="79.8,488.1 87.8,488.1 89.1,485.1 90.0,482.9 92.2,480.4 138.0,480.2 179.4,480.5 181.6,472.9 190.0,472.5 194.5,472.5 195.3,476.5 196.7,480.5 225.6,480.7 227.1,478.7 229.2,472.5 246.0,472.0 274.6,472.2"/>
<polyline fill="none" stroke="#000" stroke-width="1.0" stroke-linejoin="round" points="79.8,490.5 90.5,490.5 93.6,490.7 107.4,490.5 108.7,482.9 138.0,482.2 138.9,482.3 166.1,481.6 167.4,480.7"/>
<polyline fill="none" stroke="#000" stroke-width="1.0" stroke-linejoin="round" points="179.9,480.5 183.4,480.5 185.7,477.4 190.0,477.4 190.0,477.4 193.1,481.4 196.7,480.7"/>
<polyline fill="none" stroke="#000" stroke-width="1.0" stroke-linejoin="round" points="199.8,482.4 225.6,482.4 228.3,480.9 231.0,476.0 237.6,475.6 246.0,475.1 253.4,475.7 274.6,474.7"/>
<polyline fill="none" stroke="#000" stroke-width="1.0" stroke-linejoin="round" points="79.8,500.7 90.0,500.7 92.2,499.4 93.1,500.7 106.5,500.5 107.8,498.0 108.7,494.0 110.1,493.1 115.4,494.0 120.7,494.0 124.3,493.1 129.6,493.4 133.2,494.5 135.9,493.8 135.3,492.9 136.7,493.4"/>
<polyline fill="none" stroke="#000" stroke-width="1.0" stroke-linejoin="round" points="171.9,495.6 179.9,496.1 181.6,495.2 190.0,494.3 187.3,494.7 194.9,494.5 196.7,495.3 200.7,495.3 201.6,494.5 225.2,494.5 227.9,493.4 230.5,490.7 233.2,487.2 235.9,486.3 238.5,487.3 243.0,490.7 246.0,491.4 255.9,492.8 260.9,490.3 264.6,491.5 270.8,492.2 280.8,490.9 290.0,491.5 297.5,492.2 302.5,489.7 306.2,488.7 319.9,489.0 323.7,485.3 327.4,480.3 326.2,477.2 322.4,474.7 310.6,474.7"/>
<polyline fill="none" stroke="#000" stroke-width="1.0" stroke-linejoin="round" points="79.8,502.5 108.3,503.2 108.7,498.0 110.1,497.6 111.8,499.8 114.5,502.5 118.1,503.2 122.5,502.9 126.1,501.2 127.4,500.3 128.8,501.6 135.9,501.2 130.0,502.3 136.2,502.7"/>
<polyline fill="none" stroke="#000" stroke-width="1.0" stroke-linejoin="round" points="171.9,503.2 190.0,503.2 214.5,503.2 215.4,502.3 229.2,502.5 230.1,499.6 231.4,496.1 233.2,495.2 246.0,495.2 263.4,494.9 264.6,492.2"/>
<polyline fill="none" stroke="#000" stroke-width="1.0" stroke-linejoin="round" points="310.6,472.2 336.1,472.2 338.0,477.2 339.3,480.3 374.0,480.3 402.0,480.2 403.7,484.0 404.5,489.9 402.9,494.8 377.1,494.8"/>
<polyline fill="none" stroke="#000" stroke-width="1.0" stroke-linejoin="round" points="290.0,495.3 325.5,495.3 326.8,490.9 328.7,487.8 331.1,487.2 333.6,489.0 334.9,493.4 336.8,495.3 341.4,495.3"/>
<circle cx="333.0" cy="479.7" r="1" fill="#000"/>
<polyline fill="none" stroke="#000" stroke-width="1.0" stroke-linejoin="round" points="377.1,488.2 382.1,485.7 387.1,484.5 392.1,486.5 394.6,489.0 387.1,490.7 377.1,492.8"/>
<polygon fill="none" stroke="#000" stroke-width="1.0" stroke-linejoin="round" points="412.0,489.8 416.0,488.3 429.3,488.3 432.6,491.6 433.4,496.6 431.8,501.6 424.3,503.3 416.0,503.6 412.8,502.8 410.3,499.8 410.3,493.2"/>
<polygon fill="none" stroke="#000" stroke-width="1.0" stroke-linejoin="round" points="516.2,495.6 516.2,485.8 514.9,481.4 515.8,476.0 517.6,469.8 519.4,464.5 521.6,464.3 522.9,468.0 524.3,472.0 538.1,472.5 539.8,476.0 542.5,482.3 544.3,487.2 546.1,482.3 547.9,476.0 549.6,472.5 564.3,472.5 564.5,472.5 565.4,477.0 565.8,481.4 564.5,486.8 566.0,487.2 561.2,487.6 558.5,489.4 556.8,492.9 554.5,494.7 553.6,491.2 552.3,488.5 550.1,492.9 548.3,497.4 547.0,501.9 544.7,503.5 542.5,501.0 539.8,500.5 536.7,502.3 534.5,500.1 532.7,496.5 533.6,492.9 535.8,490.3 536.3,487.8 530.9,488.0 526.9,488.5 525.1,492.1 523.8,498.3 522.5,503.5 516.2,503.6"/>
<polygon fill="none" stroke="#000" stroke-width="1.0" stroke-linejoin="round" points="518.0,479.1 519.4,476.0 523.8,475.3 526.5,477.4 529.6,476.5 531.8,478.7 534.5,480.0 533.6,481.8 530.0,482.1 527.4,483.6 523.8,484.5 520.2,484.0 518.5,481.8"/>
<ellipse fill="none" stroke="#000" stroke-width="1.0" cx="553.5" cy="480.0" rx="2.0" ry="1.4"/>
<ellipse fill="none" stroke="#000" stroke-width="1.0" cx="561.7" cy="480.3" rx="1.1" ry="1.8"/>
<ellipse fill="none" stroke="#000" stroke-width="1.0" cx="561.3" cy="479.6" rx="1.1" ry="1.3"/>
<polygon fill="none" stroke="#000" stroke-width="1.0" stroke-linejoin="round" points="576.6,471.6 578.4,465.3 581.6,464.2 588.8,464.4 591.0,466.6 591.9,470.7 591.9,477.0 590.5,481.4 587.9,485.9 585.2,489.5 582.5,494.0 580.2,492.2 578.4,485.9 577.1,478.8"/>
<ellipse fill="none" stroke="#000" stroke-width="1.0" cx="593.7" cy="495.4" rx="3.6" ry="6.8"/>
<ellipse fill="none" stroke="#000" stroke-width="1.0" cx="601.5" cy="494.7" rx="3.4" ry="7.9"/>
<polygon fill="none" stroke="#000" stroke-width="1.0" stroke-linejoin="round" points="595.9,485.9 594.6,481.4 595.0,477.0 595.5,472.5 605.8,472.0 608.1,467.4 610.0,461.2 611.8,456.8 615.6,456.5 616.8,461.2 618.7,463.7 626.2,463.7 628.0,458.7 631.1,456.8 639.9,456.8 643.6,455.0 645.5,450.0 646.7,448.1 648.6,450.0 650.5,456.2 652.3,462.4 654.2,464.9 655.5,460.0 656.7,457.5 658.6,457.7 659.2,462.4 659.8,474.9 656.1,481.1 652.3,487.4 642.4,486.8 606.2,487.4 605.8,487.7 604.9,487.0 599.5,487.3 595.9,485.9"/>
<polygon fill="none" stroke="#000" stroke-width="1.0" stroke-linejoin="round" points="608.7,473.7 610.0,468.7 612.4,463.1 614.3,462.4 616.8,468.1 626.2,468.7 629.9,463.1 633.0,461.8 636.1,464.9 637.4,471.2 633.6,476.2 631.1,477.4 627.4,475.5 623.7,477.4 612.4,477.4 609.3,475.5"/>
<polygon fill="none" stroke="#000" stroke-width="1.0" stroke-linejoin="round" points="642.4,464.9 644.9,458.7 646.7,456.2 648.6,460.0 649.2,467.4 647.4,473.7 644.9,474.9 643.0,471.2"/>
<rect x="136.2" y="486.3" width="35.6" height="20.3" fill="none" stroke="#000" stroke-width="1"/>
<text transform="translate(154.4,502.4) scale(0.88,1)" font-size="17" text-anchor="middle" stroke="#000" stroke-width="0.55">.001</text>
<rect x="274.6" y="462.3" width="35.6" height="20.3" fill="none" stroke="#000" stroke-width="1"/>
<text transform="translate(292.8,478.4) scale(0.88,1)" font-size="17" text-anchor="middle" stroke="#000" stroke-width="0.55">.001</text>
<rect x="341.4" y="486.4" width="35.6" height="20.3" fill="none" stroke="#000" stroke-width="1"/>
<text transform="translate(359.6,502.5) scale(0.88,1)" font-size="17" text-anchor="middle" stroke="#000" stroke-width="0.55">.001</text>
</g>
<g fill="none" stroke="#000" stroke-width="2">
<rect x="80" y="96" width="581" height="416"/>
<line x1="80" y1="473.08" x2="98" y2="473.08"/>
<line x1="80" y1="434.66" x2="98" y2="434.66"/>
<line x1="80" y1="396.24" x2="98" y2="396.24"/>
<line x1="80" y1="357.82" x2="98" y2="357.82"/>
<line x1="80" y1="319.40" x2="98" y2="319.40"/>
<line x1="80" y1="280.98" x2="98" y2="280.98"/>
<line x1="80" y1="242.56" x2="98" y2="242.56"/>
<line x1="80" y1="204.14" x2="98" y2="204.14"/>
<line x1="80" y1="165.72" x2="98" y2="165.72"/>
<line x1="80" y1="127.30" x2="98" y2="127.30"/>
<line x1="152.60" y1="512" x2="152.60" y2="494"/>
<line x1="225.20" y1="512" x2="225.20" y2="494"/>
<line x1="297.80" y1="512" x2="297.80" y2="494"/>
<line x1="370.40" y1="512" x2="370.40" y2="494"/>
<line x1="443.00" y1="512" x2="443.00" y2="494"/>
<line x1="515.60" y1="512" x2="515.60" y2="494"/>
<line x1="588.20" y1="512" x2="588.20" y2="494"/>
</g>
<text x="68.5" y="516.50" font-size="16.5" text-anchor="end" stroke="#000" stroke-width="0.6">0.0</text>
<text x="68.5" y="478.08" font-size="16.5" text-anchor="end" stroke="#000" stroke-width="0.6">1.0</text>
<text x="68.5" y="439.66" font-size="16.5" text-anchor="end" stroke="#000" stroke-width="0.6">2.0</text>
<text x="68.5" y="401.24" font-size="16.5" text-anchor="end" stroke="#000" stroke-width="0.6">3.0</text>
<text x="68.5" y="362.82" font-size="16.5" text-anchor="end" stroke="#000" stroke-width="0.6">4.0</text>
<text x="68.5" y="324.40" font-size="16.5" text-anchor="end" stroke="#000" stroke-width="0.6">5.0</text>
<text x="68.5" y="285.98" font-size="16.5" text-anchor="end" stroke="#000" stroke-width="0.6">6.0</text>
<text x="68.5" y="247.56" font-size="16.5" text-anchor="end" stroke="#000" stroke-width="0.6">7.0</text>
<text x="68.5" y="209.14" font-size="16.5" text-anchor="end" stroke="#000" stroke-width="0.6">8.0</text>
<text x="68.5" y="170.72" font-size="16.5" text-anchor="end" stroke="#000" stroke-width="0.6">9.0</text>
<text x="68.5" y="132.30" font-size="16.5" text-anchor="end" stroke="#000" stroke-width="0.6">10.0</text>
<text x="80.00" y="536" font-size="16.5" text-anchor="middle" stroke="#000" stroke-width="0.6">-20.1</text>
<text x="152.60" y="536" font-size="16.5" text-anchor="middle" stroke="#000" stroke-width="0.6">-17.0</text>
<text x="225.20" y="536" font-size="16.5" text-anchor="middle" stroke="#000" stroke-width="0.6">-13.9</text>
<text x="297.80" y="536" font-size="16.5" text-anchor="middle" stroke="#000" stroke-width="0.6">-10.8</text>
<text x="370.40" y="536" font-size="16.5" text-anchor="middle" stroke="#000" stroke-width="0.6">-7.7</text>
<text x="443.00" y="536" font-size="16.5" text-anchor="middle" stroke="#000" stroke-width="0.6">-4.5</text>
<text x="515.60" y="536" font-size="16.5" text-anchor="middle" stroke="#000" stroke-width="0.6">-1.4</text>
<text x="588.20" y="536" font-size="16.5" text-anchor="middle" stroke="#000" stroke-width="0.6">1.7</text>
<text x="660.80" y="536" font-size="16.5" text-anchor="middle" stroke="#000" stroke-width="0.6">4.8</text>
<text x="370" y="570" font-size="23" text-anchor="middle" stroke="#000" stroke-width="0.6">latitude</text>
<text transform="translate(18.5,303) rotate(-90)" font-size="23" text-anchor="middle" stroke="#000" stroke-width="0.6">Height (km)</text>
<text x="79" y="13" font-size="16.3" stroke="#000" stroke-width="0.6">S-N at 5E</text>
<text x="661" y="11" font-size="10.8" text-anchor="end" stroke="#000" stroke-width="0.65">Init: 2018-09-25_00:00:00</text>
<text x="661" y="23" font-size="10.8" text-anchor="end" stroke="#000" stroke-width="0.65">Valid: 2018-09-30_21:00:00</text>
<text x="82.5" y="59.6" font-size="10.8" stroke="#000" stroke-width="0.65" xml:space="preserve">FireON-FireOFF Ext.   (1/Mm)</text>
<text x="82.5" y="71.6" font-size="10.8" stroke="#000" stroke-width="0.65" xml:space="preserve">Cloud + Ice water mixing ratio   (g/kg)</text>
<text x="82.5" y="83.6" font-size="10.8" stroke="#000" stroke-width="0.65">Main</text>
<text x="661" y="92" font-size="9.7" text-anchor="end" stroke="#000" stroke-width="0.65">Cross-Section: (382,231) to (382,485)</text>
<rect x="213.5" y="96" width="447" height="24.5" fill="#fefefc" stroke="#000" stroke-width="1"/>
<text x="437.7" y="112.8" font-size="17.1" text-anchor="middle" stroke="#000" stroke-width="0.5">Cloud + Ice water mixing ratio Contours: .001 to .1 by .099</text>
<rect x="172.00" y="618.5" width="30.62" height="21.0" fill="#fefefc" stroke="#000" stroke-width="1"/>
<rect x="202.62" y="618.5" width="30.62" height="21.0" fill="#aaaaff" stroke="#000" stroke-width="1"/>
<rect x="233.23" y="618.5" width="30.62" height="21.0" fill="#5555ff" stroke="#000" stroke-width="1"/>
<rect x="263.85" y="618.5" width="30.62" height="21.0" fill="#0000ff" stroke="#000" stroke-width="1"/>
<rect x="294.46" y="618.5" width="30.62" height="21.0" fill="#0033b0" stroke="#000" stroke-width="1"/>
<rect x="325.08" y="618.5" width="30.62" height="21.0" fill="#007763" stroke="#000" stroke-width="1"/>
<rect x="355.69" y="618.5" width="30.62" height="21.0" fill="#04ad14" stroke="#000" stroke-width="1"/>
<rect x="386.31" y="618.5" width="30.62" height="21.0" fill="#55c90e" stroke="#000" stroke-width="1"/>
<rect x="416.92" y="618.5" width="30.62" height="21.0" fill="#aae60a" stroke="#000" stroke-width="1"/>
<rect x="447.54" y="618.5" width="30.62" height="21.0" fill="#f8fc05" stroke="#000" stroke-width="1"/>
<rect x="478.15" y="618.5" width="30.62" height="21.0" fill="#ffb400" stroke="#000" stroke-width="1"/>
<rect x="508.77" y="618.5" width="30.62" height="21.0" fill="#ff5f00" stroke="#000" stroke-width="1"/>
<rect x="539.38" y="618.5" width="30.62" height="21.0" fill="#ff0000" stroke="#000" stroke-width="1"/>
<text x="370.7" y="612" font-size="17.1" text-anchor="middle" xml:space="preserve" stroke="#000" stroke-width="0.5">FireON-FireOFF Ext.  (1/Mm)</text>
<text x="202.62" y="667.3" font-size="16.5" text-anchor="middle" stroke="#000" stroke-width="0.6">2</text>
<text x="263.85" y="667.3" font-size="16.5" text-anchor="middle" stroke="#000" stroke-width="0.6">10</text>
<text x="325.08" y="667.3" font-size="16.5" text-anchor="middle" stroke="#000" stroke-width="0.6">50</text>
<text x="386.31" y="667.3" font-size="16.5" text-anchor="middle" stroke="#000" stroke-width="0.6">200</text>
<text x="447.54" y="667.3" font-size="16.5" text-anchor="middle" stroke="#000" stroke-width="0.6">400</text>
<text x="508.77" y="667.3" font-size="16.5" text-anchor="middle" stroke="#000" stroke-width="0.6">600</text>
</svg>
</body></html>
